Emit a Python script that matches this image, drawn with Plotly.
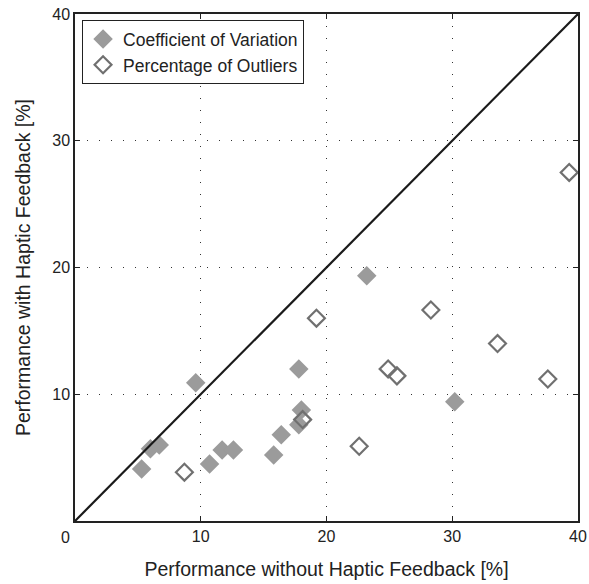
import plotly.graph_objects as go

# Coefficient of Variation (filled)
cv_x = [5.3, 6.0, 6.7, 9.6, 10.7, 11.7, 12.6, 15.8, 16.4, 17.8, 18.0, 17.8, 23.2, 30.2]
cv_y = [4.1, 5.7, 6.0, 10.9, 4.5, 5.6, 5.6, 5.2, 6.8, 12.0, 8.75, 7.6, 19.35, 9.4]

# Percentage of Outliers (hollow)
po_x = [8.7, 18.1, 19.2, 22.6, 24.9, 25.6, 28.3, 33.6, 37.6, 39.3]
po_y = [3.85, 8.0, 16.0, 5.9, 12.0, 11.45, 16.65, 14.0, 11.2, 27.5]

axis_range = [0, 40]
x_ticks = [0, 10, 20, 30, 40]
y_ticks = [10, 20, 30, 40]

font_family = "Liberation Sans, Arial, sans-serif"

fig = go.Figure()
fig.add_trace(go.Scatter(
    x=cv_x, y=cv_y, mode="markers", name="Coefficient of Variation",
    marker=dict(symbol="diamond", size=15, color="#9b9b9b",
                line=dict(width=0))))
fig.add_trace(go.Scatter(
    x=po_x, y=po_y, mode="markers", name="Percentage of Outliers",
    marker=dict(symbol="diamond-open", size=13, color="#707070",
                line=dict(width=2.2, color="#707070"))))
fig.add_trace(go.Scatter(
    x=axis_range, y=axis_range, mode="lines", showlegend=False,
    line=dict(color="#1a1a1a", width=2.2), hoverinfo="skip"))

axis_common = dict(
    range=axis_range, showline=True, linecolor="#222", linewidth=1.5,
    mirror="ticks", ticks="inside", ticklen=5, tickcolor="#222",
    showgrid=True, gridcolor="#333", gridwidth=1, griddash="1px,11px",
    zeroline=False, automargin=False,
    tickfont=dict(family=font_family, size=16, color="#222"),
)

fig.update_layout(
    width=589, height=584,
    margin=dict(l=75, r=11, t=14, b=63),
    paper_bgcolor="white", plot_bgcolor="white",
    font=dict(family=font_family, color="#222"),
    showlegend=True,
    legend=dict(x=0.014, y=0.988, xanchor="left", yanchor="top",
                bgcolor="white", bordercolor="#222", borderwidth=1,
                font=dict(family=font_family, size=17.5, color="#222"),
                itemwidth=30, tracegroupgap=4),
    xaxis=dict(axis_common, tickvals=x_ticks,
               ticktext=["" if v == 0 else str(v) for v in x_ticks],
               title=dict(text="Performance without Haptic Feedback [%]",
                          font=dict(family=font_family, size=19.5, color="#222"),
                          standoff=18)),
    yaxis=dict(axis_common, tickvals=y_ticks,
               title=dict(text="Performance with Haptic Feedback [%]",
                          font=dict(family=font_family, size=19.5, color="#222"),
                          standoff=16)),
)

fig.add_annotation(x=0, y=0, xref="x", yref="y", text="0", showarrow=False,
                   xanchor="right", yanchor="top", xshift=-3, yshift=-6,
                   font=dict(family=font_family, size=16, color="#222"))

fig.write_html("out.html")
